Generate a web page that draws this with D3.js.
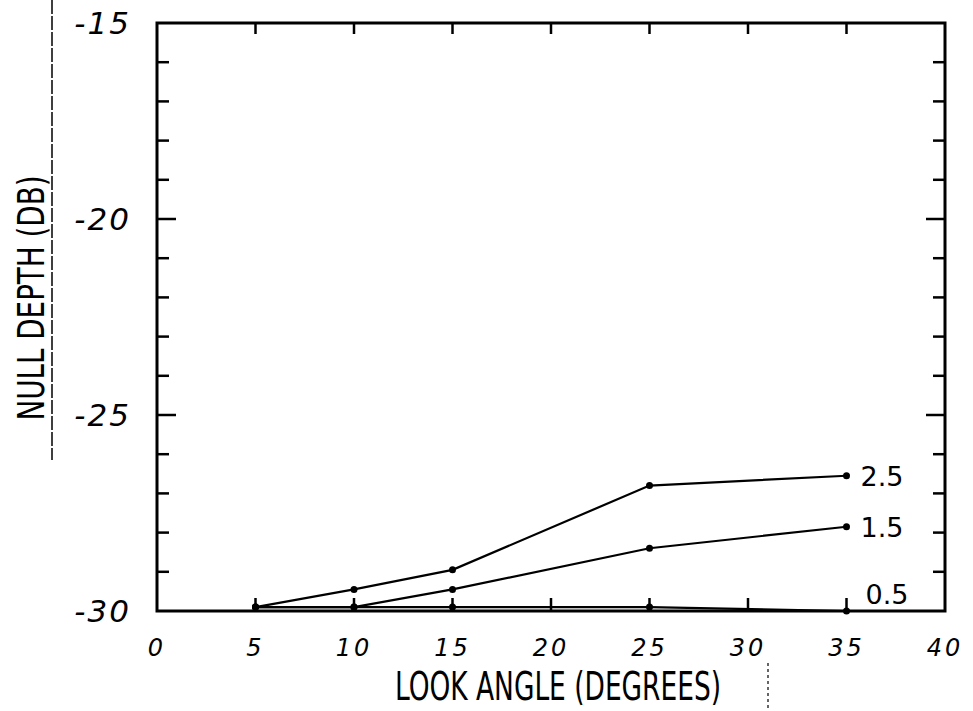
<!DOCTYPE html>
<html>
<head>
<meta charset="utf-8">
<script src="https://cdn.jsdelivr.net/npm/d3@7"></script>
<style>
  body { margin: 0; background: #fff; }
  svg { display: block; }
</style>
</head>
<body>
<div id="vis"></div>
<script>
let width = 973
let height = 711
let margin = { top: 23, right: 28, bottom: 100, left: 157 }

// look angle (degrees)
let angles = [5, 10, 15, 25, 35]
// null depth (dB) for each curve
let series25 = [-29.9, -29.45, -28.95, -26.8, -26.55]
let series15 = [-29.9, -29.9, -29.45, -28.4, -27.85]
let series05 = [-29.9, -29.9, -29.9, -29.9, -30]
let seriesNames = ["2.5", "1.5", "0.5"]

let xTicks = [0, 5, 10, 15, 20, 25, 30, 35, 40]
let yTicks = [-15, -20, -25, -30]

let series = [
  { name: seriesNames[0], values: series25 },
  { name: seriesNames[1], values: series15 },
  { name: seriesNames[2], values: series05 }
]

let svg = d3.select("#vis")
  .append("svg")
  .attr("width", width)
  .attr("height", height)
  .style("background", "#fff")

let iw = width - margin.left - margin.right
let ih = height - margin.top - margin.bottom

let x = d3.scaleLinear().domain([0, 40]).range([0, iw])
let y = d3.scaleLinear().domain([-30, -15]).range([ih, 0])

let g = svg.append("g")
  .attr("transform", `translate(${margin.left},${margin.top})`)

// frame
g.append("rect")
  .attr("width", iw)
  .attr("height", ih)
  .attr("fill", "none")
  .attr("stroke", "#000")
  .attr("stroke-width", 3)

// inward ticks on every side
let minorY = d3.range(-29, -15, 1)
let tickLen = d => (d % 5 === 0 ? 19 : 12)

g.selectAll(".ltick").data(minorY).enter().append("line")
  .attr("x1", 0).attr("x2", d => tickLen(d))
  .attr("y1", d => y(d)).attr("y2", d => y(d))
  .attr("stroke", "#000").attr("stroke-width", 2.5)

g.selectAll(".rtick").data(minorY).enter().append("line")
  .attr("x1", iw).attr("x2", d => iw - tickLen(d))
  .attr("y1", d => y(d)).attr("y2", d => y(d))
  .attr("stroke", "#000").attr("stroke-width", 2.5)

let innerX = xTicks.slice(1, -1)
g.selectAll(".ttick").data(innerX).enter().append("line")
  .attr("x1", d => x(d)).attr("x2", d => x(d))
  .attr("y1", 0).attr("y2", 11)
  .attr("stroke", "#000").attr("stroke-width", 2.5)

g.selectAll(".btick").data(innerX).enter().append("line")
  .attr("x1", d => x(d)).attr("x2", d => x(d))
  .attr("y1", ih).attr("y2", ih - 13)
  .attr("stroke", "#000").attr("stroke-width", 2.5)

// tick labels
g.selectAll(".xlab").data(xTicks).enter().append("text")
  .attr("x", d => x(d))
  .attr("y", ih + 45)
  .attr("text-anchor", "middle")
  .style("font-family", "'DejaVu Sans', sans-serif")
  .style("font-style", "italic")
  .style("font-weight", 300)
  .style("font-size", "24px")
  .style("letter-spacing", "3px")
  .text(d => d)

g.selectAll(".ylab").data(yTicks).enter().append("text")
  .attr("x", -26)
  .attr("y", d => y(d) + 11)
  .attr("text-anchor", "end")
  .style("font-family", "'DejaVu Sans', sans-serif")
  .style("font-style", "italic")
  .style("font-size", "31px")
  .style("letter-spacing", "2px")
  .text(d => "-" + Math.abs(d))

// curves
let line = d3.line()
  .x((d, i) => x(angles[i]))
  .y(d => y(d))

g.selectAll(".curve").data(series).enter().append("path")
  .attr("d", d => line(d.values))
  .attr("fill", "none")
  .attr("stroke", "#000")
  .attr("stroke-width", 2.2)

series.forEach(s => {
  g.selectAll(null).data(s.values).enter().append("circle")
    .attr("cx", (d, i) => x(angles[i]))
    .attr("cy", d => y(d))
    .attr("r", 3.5)
    .attr("fill", "#000")
})

// curve labels at the right end
g.selectAll(".clab").data(series).enter().append("text")
  .attr("x", (d, i) => x(angles[angles.length - 1]) + (i === 2 ? 19 : 14))
  .attr("y", (d, i) => i === 2 ? y(d.values[4]) - 7 : y(d.values[4]) + 10)
  .style("font-family", "'DejaVu Sans', sans-serif")
  .style("font-size", "27px")
  .text(d => d.name)

// axis titles
svg.append("text")
  .attr("x", 558)
  .attr("y", 700)
  .attr("text-anchor", "middle")
  .attr("textLength", 326)
  .attr("lengthAdjust", "spacingAndGlyphs")
  .style("font-family", "'DejaVu Sans Condensed', 'DejaVu Sans', sans-serif")
  .style("font-size", "39px")
  .text("LOOK ANGLE (DEGREES)")

svg.append("text")
  .attr("transform", "translate(44,298) rotate(-90)")
  .attr("text-anchor", "middle")
  .attr("textLength", 245)
  .attr("lengthAdjust", "spacingAndGlyphs")
  .style("font-family", "'DejaVu Sans Condensed', 'DejaVu Sans', sans-serif")
  .style("font-size", "38px")
  .text("NULL DEPTH (DB)")

// underline of the y title
svg.append("line")
  .attr("x1", 52).attr("x2", 52)
  .attr("y1", 0).attr("y2", 460)
  .attr("stroke", "#000")
  .attr("stroke-width", 1.5)
  .attr("stroke-dasharray", "14,2")

svg.append("line")
  .attr("x1", 768).attr("x2", 768)
  .attr("y1", 663).attr("y2", 711)
  .attr("stroke", "#000")
  .attr("stroke-width", 1.2)
  .attr("stroke-dasharray", "3,3")
</script>
</body>
</html>
